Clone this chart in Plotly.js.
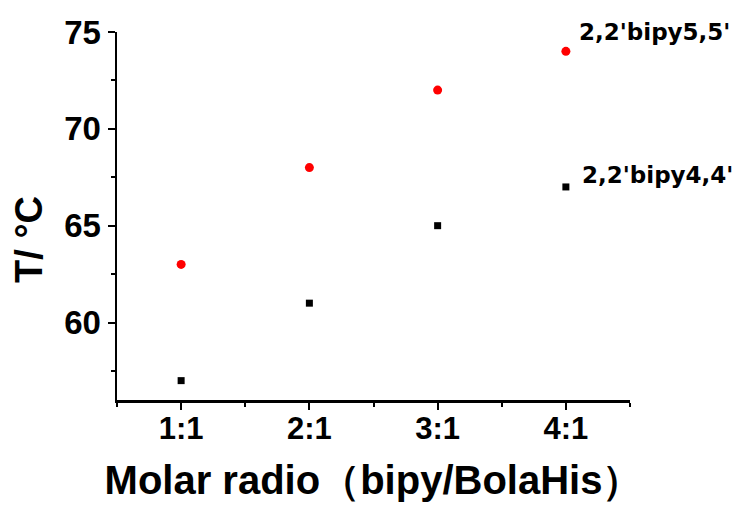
<!DOCTYPE html>
<html>
<head>
<meta charset="utf-8">
<script src="https://cdn.plot.ly/plotly-3.0.1.min.js"></script>
<style>html,body{margin:0;padding:0;background:#fff;}</style>
</head>
<body>
<div id="chart" style="width:738px;height:508px;"></div>
<script>
const categories = ["1:1", "2:1", "3:1", "4:1"];
const bipy44 = [57, 61, 65, 67];
const bipy55 = [63, 68, 72, 74];
const seriesNames = ["2,2'bipy4,4'", "2,2'bipy5,5'"];
const xTitle = "Molar radio（bipy/BolaHis）";
const yTitle = "T/ °C";

const xIdx = categories.map((c, i) => i);
const FONT = "Liberation Sans, Arial, sans-serif";
const AFONT = "DejaVu Sans, sans-serif";

const traces = [
  {x: xIdx, y: bipy44, mode: "markers", type: "scatter", name: seriesNames[0],
   marker: {symbol: "square", size: 7, color: "#000000"}, cliponaxis: false},
  {x: xIdx, y: bipy55, mode: "markers", type: "scatter", name: seriesNames[1],
   marker: {symbol: "circle", size: 9, color: "#ff0000"}, cliponaxis: false}
];

const layout = {
  width: 738, height: 508,
  margin: {l: 117, r: 108, t: 32, b: 108},
  paper_bgcolor: "#ffffff", plot_bgcolor: "#ffffff",
  showlegend: false,
  font: {family: FONT, color: "#000000"},
  xaxis: {
    range: [-0.5, 3.5], tickvals: xIdx, ticktext: categories,
    showgrid: false, zeroline: false, showline: true, linecolor: "#000", linewidth: 2.5,
    ticks: "outside", ticklen: 7, tickwidth: 2, tickcolor: "#000",
    minor: {dtick: 0.5, tick0: -0.5, ticks: "outside", ticklen: 4, tickwidth: 2, tickcolor: "#000"},
    tickfont: {family: FONT, size: 31, weight: "bold"},
    ticklabelstandoff: -8,
    title: {text: xTitle, font: {family: FONT, size: 40, weight: "bold"}, standoff: 22}
  },
  yaxis: {
    range: [56, 75], dtick: 5, tick0: 0,
    showgrid: false, zeroline: false, showline: true, linecolor: "#000", linewidth: 2.5,
    ticks: "outside", ticklen: 7, tickwidth: 2, tickcolor: "#000",
    minor: {dtick: 2.5, tick0: 0, ticks: "outside", ticklen: 4, tickwidth: 2, tickcolor: "#000"},
    tickfont: {family: FONT, size: 33, weight: "bold"}
  },
  annotations: [
    {x: -0.1715, y: 0.435, xref: "paper", yref: "paper", text: yTitle, showarrow: false, textangle: -90,
     xanchor: "center", yanchor: "middle", font: {family: FONT, size: 38, weight: "bold", color: "#000"}},
    {x: 3.086, y: 1.0, xref: "x", yref: "paper", text: seriesNames[1], showarrow: false,
     xanchor: "left", yanchor: "middle", font: {family: AFONT, size: 23, weight: "bold", color: "#000"}},
    {x: 3.11, y: 0.612, xref: "x", yref: "paper", text: seriesNames[0], showarrow: false,
     xanchor: "left", yanchor: "middle", font: {family: AFONT, size: 23, weight: "bold", color: "#000"}}
  ]
};

Plotly.newPlot("chart", traces, layout, {displayModeBar: false, staticPlot: true});
</script>
</body>
</html>
